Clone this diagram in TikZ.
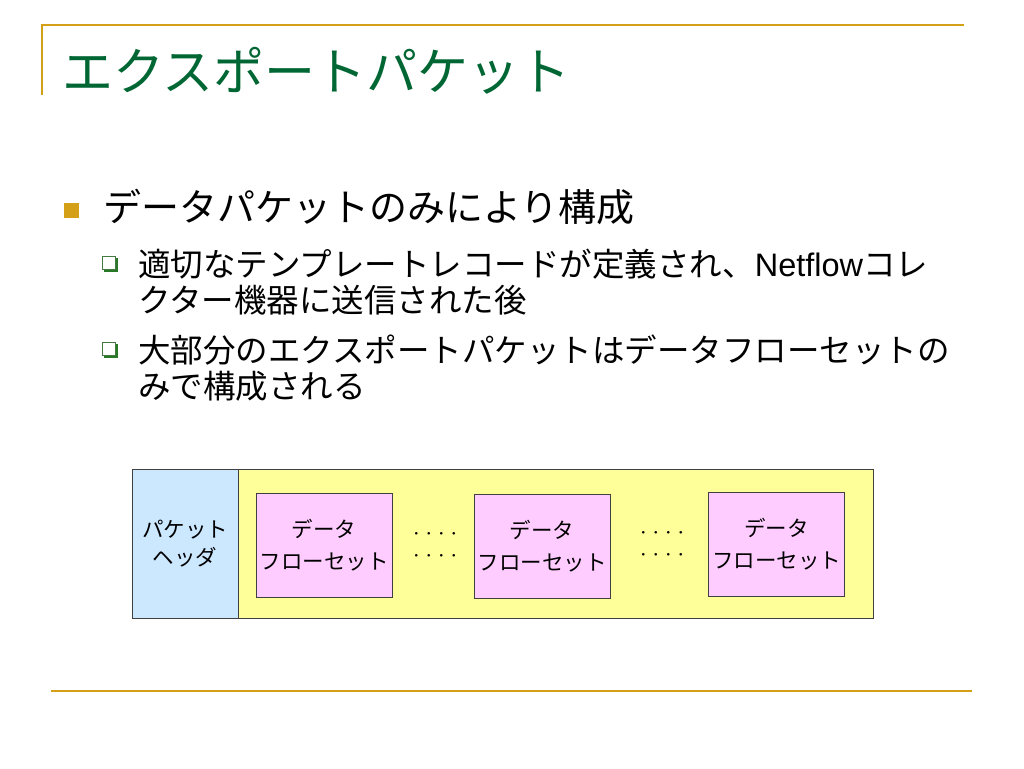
\documentclass[tikz,border=0pt]{standalone}
\usepackage{fontspec}
\setmainfont{Noto Sans CJK JP}
\newfontfamily\arialf{Liberation Sans}
\definecolor{gold}{RGB}{212,160,23}
\definecolor{titlegreen}{RGB}{0,102,51}
\definecolor{boxline}{RGB}{64,64,64}
\definecolor{hdrblue}{RGB}{204,232,255}
\definecolor{pktyellow}{RGB}{255,255,153}
\definecolor{setpink}{RGB}{255,204,255}
\definecolor{shadowgreen}{RGB}{40,120,40}
\tikzset{
  rule/.style={draw=gold, line width=2pt},
  txt/.style={anchor=base west, inner sep=0pt, outer sep=0pt},
  boxbase/.style={draw=boxline, line width=0.9pt, inner sep=0pt, align=center},
  flowset/.style={boxbase, fill=setpink, minimum width=136pt, minimum height=104pt,
    font=\fontsize{21.5}{32}\selectfont},
  dots/.style={inner sep=0pt, align=center, font=\fontsize{12.5}{22}\selectfont}
}
\begin{document}
\begin{tikzpicture}[x=1pt,y=-1pt]
\useasboundingbox (0,0) rectangle (1024,768);
% frame rules
\coordinate (tl) at (42,25);
\coordinate (tr) at (964,25);
\coordinate (lb) at (42,95);
\coordinate (bl) at (51,691);
\coordinate (br) at (972,691);
\draw[rule] (lb) -- (tl) -- (tr);
\draw[rule] (bl) -- (br);
% title
\node[txt, text=titlegreen, font=\fontsize{51}{60}\selectfont] (title) at (62,90) {エクスポートパケット};
% bullet 1
\node[fill=gold, minimum size=15pt, inner sep=0pt] (bul1) at (71.5,210.5) {};
\node[txt, font=\fontsize{38}{45}\selectfont] (b1) at (103,221) {データパケットのみにより構成};
% sub bullets
\node[fill=shadowgreen, minimum size=14pt, inner sep=0pt] (sb1s) at (111,265) {};
\node[fill=white, draw=shadowgreen!70!gray, line width=0.6pt, minimum size=12.5pt, inner sep=0pt] (sb1) at (109,263) {};
\node[txt, font=\fontsize{32.5}{36}\selectfont] (s1a) at (138,276) {適切なテンプレートレコードが定義され、{\arialf Netflow}コレ};
\node[txt, font=\fontsize{32.5}{36}\selectfont] (s1b) at (138,312) {クター機器に送信された後};
\node[fill=shadowgreen, minimum size=14pt, inner sep=0pt] (sb2s) at (111,351) {};
\node[fill=white, draw=shadowgreen!70!gray, line width=0.6pt, minimum size=12.5pt, inner sep=0pt] (sb2) at (109,349) {};
\node[txt, font=\fontsize{32.5}{36}\selectfont] (s2a) at (138,362) {大部分のエクスポートパケットはデータフローセットの};
\node[txt, font=\fontsize{32.5}{36}\selectfont] (s2b) at (138,398) {みで構成される};
% packet diagram
\node[boxbase, fill=pktyellow, minimum width=635pt, minimum height=149pt] (pkt) at (555.5,543.5) {};
\node[boxbase, fill=hdrblue, minimum width=106pt, minimum height=149pt,
  font=\fontsize{21.5}{28}\selectfont] (hdr) at (185,543.5) {パケット\\ヘッダ};
\node[flowset] (fs1) at (324,545.5) {データ\\フローセット};
\node[flowset] (fs2) at (542,546) {データ\\フローセット};
\node[flowset] (fs3) at (776.5,544.5) {データ\\フローセット};
\node[dots] (d1) at (435,546) {・・・・\\・・・・};
\node[dots] (d2) at (662,545) {・・・・\\・・・・};
\end{tikzpicture}
\end{document}
